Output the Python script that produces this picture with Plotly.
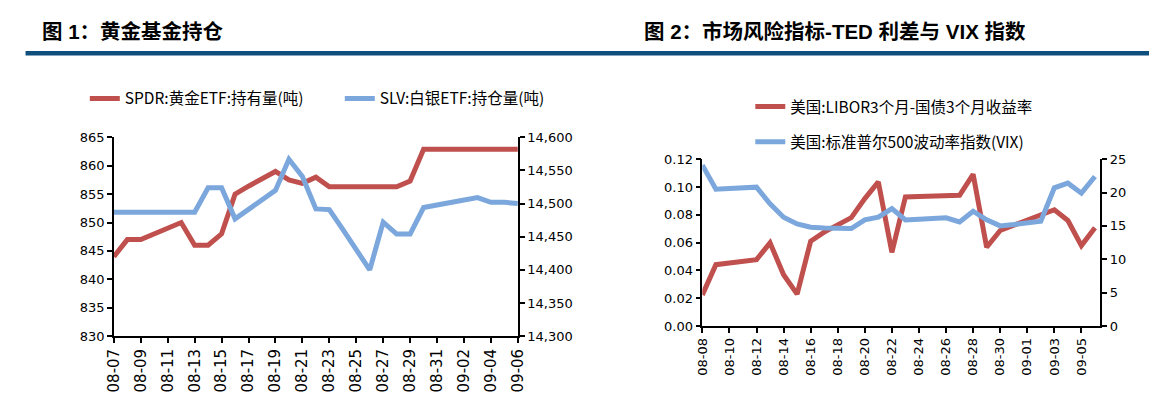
import plotly.graph_objects as go

# ---------------- data ----------------
dates_left = ["08-%02d" % d for d in range(7, 32)] + ["09-%02d" % d for d in range(1, 7)]
spdr_gold = [844, 847, 847, 848, 849, 850, 846, 846, 848, 855, 856.4, 857.7, 859,
             857.5, 856.9, 858, 856.3, 856.3, 856.3, 856.3, 856.3, 856.3, 857.3,
             862.9, 862.9, 862.9, 862.9, 862.9, 862.9, 862.9, 862.9]
slv_silver = [14487, 14487, 14487, 14487, 14487, 14487, 14487, 14524, 14524, 14477,
              14491, 14505, 14520, 14567, 14541, 14492, 14491, 14461, 14430, 14400,
              14472, 14454, 14454, 14494, 14498, 14502, 14505, 14509, 14502, 14502, 14500]

dates_right = ["08-%02d" % d for d in range(8, 32)] + ["09-%02d" % d for d in range(1, 7)]
ted_spread = [0.0224, 0.0441, 0.0453, 0.0465, 0.0477, 0.0598, 0.0369, 0.0229, 0.061,
              0.0675, 0.073, 0.0779, 0.0916, 0.1036, 0.053, 0.0928, 0.0931, 0.0934,
              0.0937, 0.094, 0.1091, 0.0566, 0.0687, 0.0723, 0.0759, 0.0795, 0.0836,
              0.0759, 0.0578, 0.0706]
vix = [24.1, 20.5, 20.6, 20.7, 20.8, 18.3, 16.3, 15.3, 14.8, 14.7, 14.65, 14.6, 15.9,
       16.3, 17.6, 15.9, 16.0, 16.1, 16.2, 15.6, 17.2, 15.9, 15.0, 15.2, 15.4, 15.7,
       20.7, 21.4, 19.9, 22.4]

left_y_ticks = [830, 835, 840, 845, 850, 855, 860, 865]
left_y2_ticks = [14300, 14350, 14400, 14450, 14500, 14550, 14600]
right_y_ticks = [0.00, 0.02, 0.04, 0.06, 0.08, 0.10, 0.12]
right_y2_ticks = [0, 5, 10, 15, 20, 25]

title1 = "图 1：黄金基金持仓"
title2 = "图 2：市场风险指标-TED 利差与 VIX 指数"

# ---------------- style ----------------
W, H = 1158, 404
RED = "#C0504D"
BLUE = "#7BA7DC"
RULE = "#0E4F7E"
NUMFONT = "'DejaVu Sans', sans-serif"
CJKFONT = "'Noto Sans CJK SC', sans-serif"
TITLEFONT = "'Liberation Sans', 'Noto Sans CJK SC', sans-serif"
LW = 5

def px_x(p):
    return p / W

def px_y(p):
    return 1 - p / H

fig = go.Figure()

fig.add_trace(go.Scatter(x=dates_left, y=spdr_gold, name="SPDR:黄金ETF:持有量(吨)",
                         mode="lines", line=dict(color=RED, width=LW),
                         xaxis="x", yaxis="y", legend="legend"))
fig.add_trace(go.Scatter(x=dates_left, y=slv_silver, name="SLV:白银ETF:持仓量(吨)",
                         mode="lines", line=dict(color=BLUE, width=LW),
                         xaxis="x", yaxis="y2", legend="legend"))
fig.add_trace(go.Scatter(x=dates_right, y=ted_spread, name="美国:LIBOR3个月-国债3个月收益率",
                         mode="lines", line=dict(color=RED, width=LW),
                         xaxis="x3", yaxis="y3", legend="legend2", legendgroup="a"))
fig.add_trace(go.Scatter(x=dates_right, y=vix, name="美国:标准普尔500波动率指数(VIX)",
                         mode="lines", line=dict(color=BLUE, width=LW),
                         xaxis="x3", yaxis="y4", legend="legend2", legendgroup="b"))

axis_common = dict(showgrid=False, zeroline=False, showline=True, linecolor="black",
                   linewidth=1.5, ticks="outside", ticklen=5, tickcolor="black",
                   tickwidth=1.5, tickfont=dict(family=NUMFONT, size=13, color="black"))

fig.update_layout(
    width=W, height=H,
    margin=dict(l=0, r=0, t=0, b=0),
    paper_bgcolor="white", plot_bgcolor="white",
    font=dict(family=CJKFONT, size=15.5, color="black"),
    xaxis=dict(axis_common, type="category", tickangle=-90,
               tickfont=dict(family=NUMFONT, size=15, color="black"),
               domain=[px_x(106.5), px_x(516.9)], anchor="y",
               range=[0, len(dates_left) - 1], tickmode="array",
               tickvals=dates_left[::2], ticktext=dates_left[::2]),
    yaxis=dict(axis_common, domain=[px_y(341.8), px_y(135.4)], anchor="x",
               range=[830, 865], tickmode="array", tickvals=left_y_ticks),
    yaxis2=dict(axis_common, overlaying="y", side="right", anchor="x",
                range=[14300, 14600], tickmode="array", tickvals=left_y2_ticks,
                tickformat=","),
    xaxis3=dict(axis_common, type="category", tickangle=-90,
                tickfont=dict(family=NUMFONT, size=13, color="black"),
                domain=[px_x(704.3), px_x(1108.6)], anchor="y3",
                range=[0, 29.4], tickmode="array",
                tickvals=dates_right[:-1:2], ticktext=dates_right[:-1:2]),
    yaxis3=dict(axis_common, domain=[px_y(331.3), px_y(158.0)], anchor="x3",
                range=[0, 0.12], tickmode="array", tickvals=right_y_ticks,
                tickformat=".2f"),
    yaxis4=dict(axis_common, overlaying="y3", side="right", anchor="x3",
                range=[0, 25], tickmode="array", tickvals=right_y2_ticks),
    legend=dict(orientation="h", x=px_x(77), y=px_y(95.4), xanchor="left", yanchor="middle",
                font=dict(family=CJKFONT, size=15.5, color="black"), bgcolor="rgba(0,0,0,0)",
                entrywidth=210, entrywidthmode="pixels"),
    legend2=dict(orientation="v", x=px_x(753), y=px_y(122), xanchor="left", yanchor="middle",
                 font=dict(family=CJKFONT, size=15.5, color="black"), bgcolor="rgba(0,0,0,0)",
                 tracegroupgap=12),
    showlegend=True,
)

# titles and rule
fig.add_annotation(text="<b>" + title1 + "</b>", x=px_x(31.9), y=px_y(25.9), xref="paper", yref="paper",
                   xanchor="left", yanchor="middle", showarrow=False,
                   font=dict(family=TITLEFONT, size=20.5, color="black"))
fig.add_annotation(text="<b>" + title2 + "</b>", x=px_x(643.2), y=px_y(25.9), xref="paper", yref="paper",
                   xanchor="left", yanchor="middle", showarrow=False,
                   font=dict(family=TITLEFONT, size=20.5, color="black"))
fig.add_shape(type="line", xref="paper", yref="paper", x0=px_x(16.8), x1=1, y0=px_y(48), y1=px_y(48),
              line=dict(color=RULE, width=4.6))

fig.write_html("out.html", config={"displayModeBar": False},
               post_script="document.body.style.margin='0';document.body.style.padding='0';"
                           "document.documentElement.style.overflow='hidden';")
